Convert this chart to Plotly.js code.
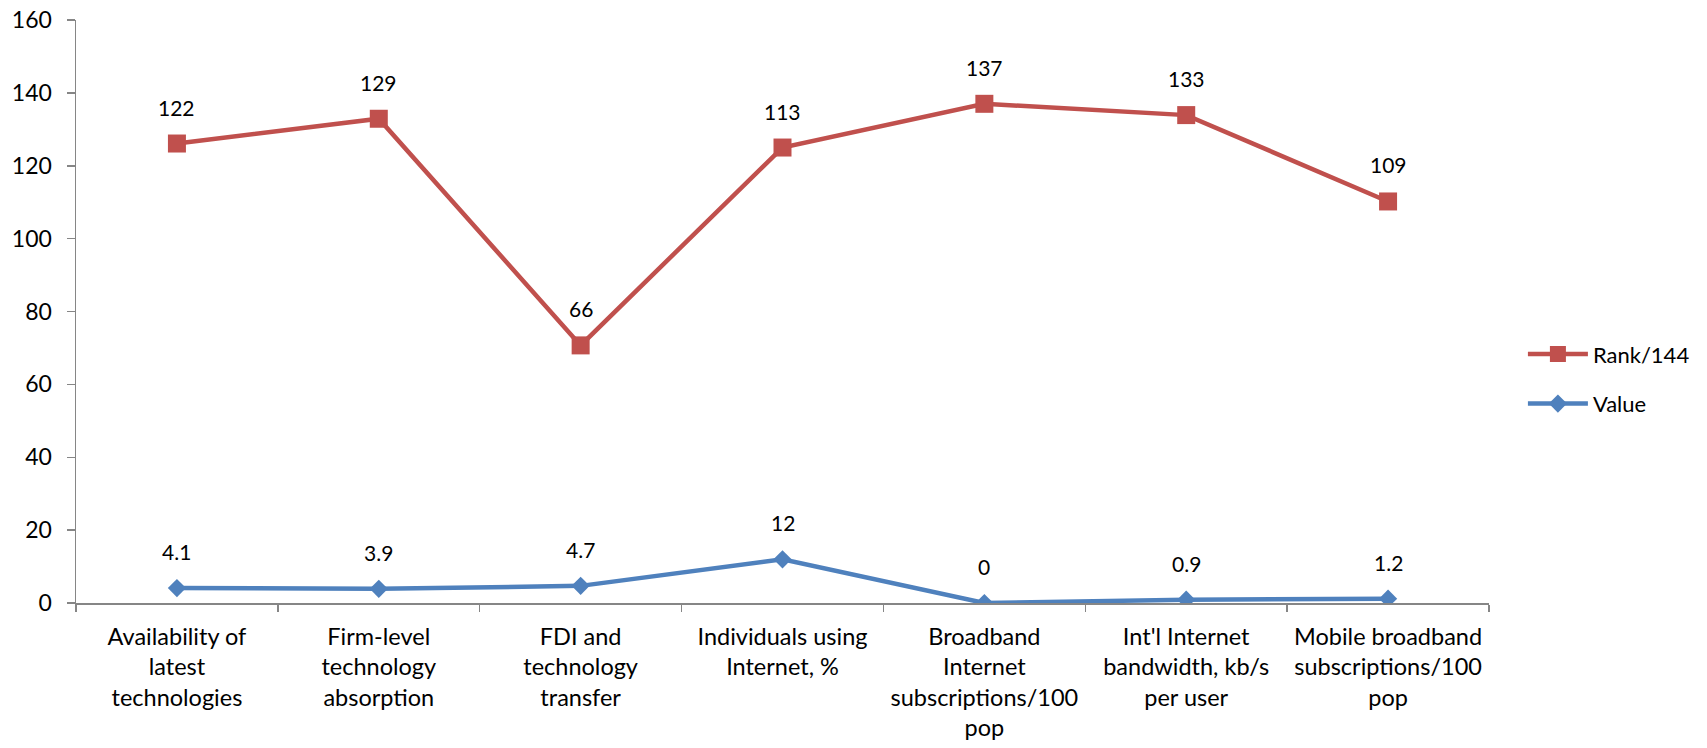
<!DOCTYPE html>
<html>
<head>
<meta charset="utf-8">
<script src="https://cdn.plot.ly/plotly-3.0.1.min.js"></script>
<style>html,body{margin:0;padding:0;background:#fff;}#chart{width:1707px;height:748px;}</style>
</head>
<body>
<div id="chart"></div>
<script>
const categories = [
  "Availability of<br>latest<br>technologies",
  "Firm-level<br>technology<br>absorption",
  "FDI and<br>technology<br>transfer",
  "Individuals using<br>Internet, %",
  "Broadband<br>Internet<br>subscriptions/100<br>pop",
  "Int'l Internet<br>bandwidth, kb/s<br>per user",
  "Mobile broadband<br>subscriptions/100<br>pop"
];
const rankValues = [122, 129, 66, 113, 137, 133, 109];
const valueValues = [4.1, 3.9, 4.7, 12, 0, 0.9, 1.2];
const yTicks = [0, 20, 40, 60, 80, 100, 120, 140, 160];

const RED = "#C0504D", BLUE = "#4F81BD";
const FONT = "Lato, 'Open Sans', sans-serif";

const traceValue = {
  x: categories, y: valueValues, name: "Value", type: "scatter", mode: "lines+markers",
  stackgroup: "one", fill: "none", legendgroup: "v", legendrank: 2,
  line: {color: BLUE, width: 4.5},
  marker: {symbol: "diamond", size: 14, color: BLUE},
  hoverinfo: "skip"
};
const traceRank = {
  x: categories, y: rankValues, name: "Rank/144", type: "scatter", mode: "lines+markers",
  stackgroup: "one", fill: "none", legendgroup: "r", legendrank: 1,
  line: {color: RED, width: 4.5},
  marker: {symbol: "square", size: 18, color: RED},
  hoverinfo: "skip"
};

const annotations = [];
categories.forEach((c, i) => {
  annotations.push({x: c, y: valueValues[i], text: String(valueValues[i]), showarrow: false,
    yanchor: "bottom", yshift: 22, font: {family: FONT, size: 21, color: "#000"}});
  annotations.push({x: c, y: valueValues[i] + rankValues[i], text: String(rankValues[i]), showarrow: false,
    yanchor: "bottom", yshift: 22, font: {family: FONT, size: 21, color: "#000"}});
});

const layout = {
  width: 1707, height: 748,
  margin: {l: 76, r: 215, t: 20, b: 145},
  paper_bgcolor: "#fff", plot_bgcolor: "#fff",
  font: {family: FONT, size: 22, color: "#000"},
  showlegend: true,
  legend: {x: 1.024, y: 0.384, xanchor: "left", yanchor: "middle", traceorder: "grouped",
    font: {family: FONT, size: 22, color: "#000"}, itemwidth: 60, tracegroupgap: 18},
  xaxis: {
    type: "category", range: [-0.5, 6.5], tickson: "boundaries",
    showline: true, linecolor: "#868686", linewidth: 1.5,
    ticks: "outside", ticklen: 7, tickcolor: "#868686", tickwidth: 1.5,
    showgrid: false, zeroline: false, tickangle: 0, ticklabelstandoff: 12,
    tickfont: {family: FONT, size: 23.5, color: "#000"}, automargin: false
  },
  yaxis: {
    range: [0, 160], tickvals: yTicks, ticktext: yTicks.map(String),
    showline: true, linecolor: "#868686", linewidth: 1.5,
    ticks: "outside", ticklen: 8, tickcolor: "#868686", tickwidth: 1.5,
    showgrid: false, zeroline: false, ticklabelstandoff: 10,
    tickfont: {family: FONT, size: 23, color: "#000"}, automargin: false
  },
  annotations: annotations
};

Plotly.newPlot("chart", [traceValue, traceRank], layout, {staticPlot: true, displayModeBar: false});
</script>
</body>
</html>
